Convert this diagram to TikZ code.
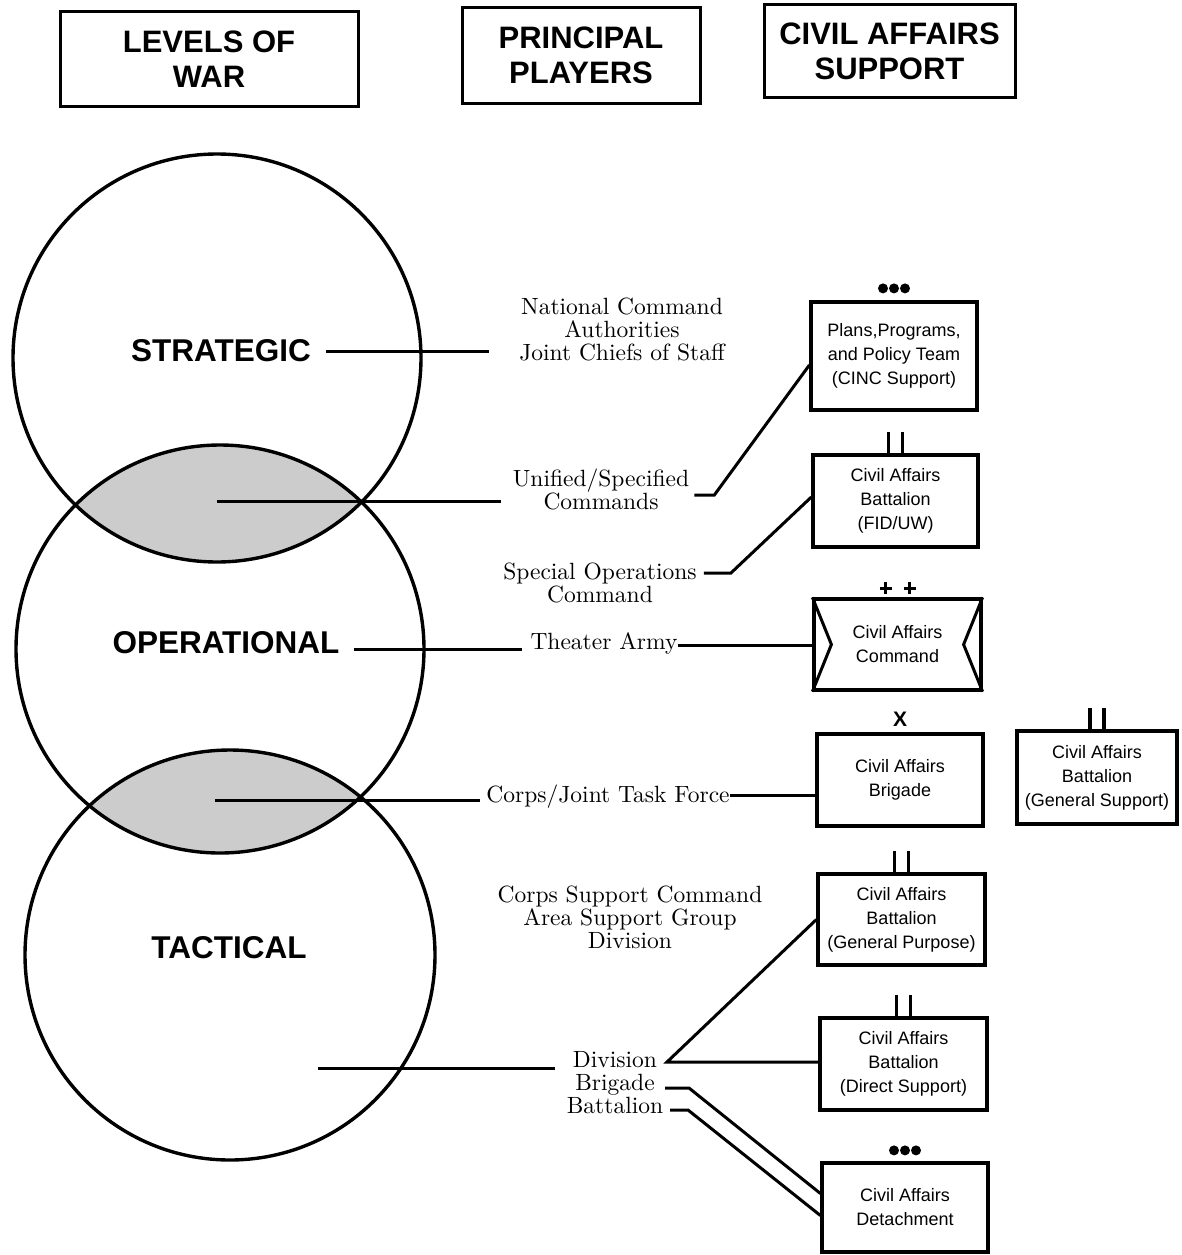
\documentclass[tikz,border=0pt]{standalone}
\usepackage{fontspec}
\newfontfamily\hv{Liberation Sans}
\newfontfamily\cmr{lmroman10-regular}[Extension=.otf]
\begin{document}
\begin{tikzpicture}[x=1pt,y=-1pt,
  hdr/.style={draw, line width=3pt, inner sep=0, align=center,
    font=\hv\bfseries\fontsize{31}{35}\selectfont},
  lvl/.style={inner sep=0, font=\hv\bfseries\fontsize{31.5}{36}\selectfont},
  ply/.style={inner sep=0, align=center, font=\cmr\fontsize{23.5}{23}\selectfont},
  unit/.style={draw, line width=3.2pt, inner sep=0, align=center,
    font=\hv\fontsize{18}{24}\selectfont},
  ring/.style={line width=3.4pt},
  conn/.style={line width=3pt},
  lens/.style={fill=black!20},
  bar/.style={line width=3.4pt},
  dot/.style={fill=black},
]
\useasboundingbox (0,0) rectangle (1181,1255);

% column headings
\node[hdr, minimum width=298, minimum height=94] (h1) at (209,59) {LEVELS OF\\WAR};
\node[hdr, minimum width=238, minimum height=95] (h2) at (581,55.5) {PRINCIPAL\\PLAYERS};
\node[hdr, minimum width=251, minimum height=92] (h3) at (889.5,51) {CIVIL AFFAIRS\\SUPPORT};

% the three levels of war as overlapping circles
\coordinate (cS) at (217,358);
\coordinate (cO) at (220,649);
\coordinate (cT) at (230,955);
\begin{scope}
  \clip (cS) circle[radius=204pt];
  \fill[lens] (cO) circle[radius=204pt];
\end{scope}
\begin{scope}
  \clip (cO) circle[radius=204pt];
  \fill[lens] (cT) circle[radius=205pt];
\end{scope}
\draw[ring] (cS) circle[radius=204pt];
\draw[ring] (cO) circle[radius=204pt];
\draw[ring] (cT) circle[radius=205pt];

\node[lvl] (strat) at (221,351) {STRATEGIC};
\node[lvl] (oper) at (226,643) {OPERATIONAL};
\node[lvl] (tact) at (229,948) {TACTICAL};

% principal players
\node[ply] (nca) at (622,329) {National Command\\Authorities\\Joint Chiefs of Staff};
\node[ply] (usc) at (601,489) {Unified/Specified\\Commands};
\node[ply] (soc) at (600,583) {Special Operations\\Command};
\node[ply] (ta) at (604,643) {Theater Army};
\node[ply] (cjtf) at (608,797) {Corps/Joint Task Force};
\node[ply] (cosc) at (630,917) {Corps Support Command\\Area Support Group\\Division};
\node[ply] (dbb) at (615,1083) {Division\\Brigade\\Battalion};

% civil affairs units
\node[unit, minimum width=166, minimum height=108] (bA) at (894,356) {Plans,Programs,\\and Policy Team\\(CINC Support)};
\node[unit, minimum width=165, minimum height=92] (bB) at (895.5,501) {Civil Affairs\\Battalion\\(FID/UW)};
\node[unit, minimum width=167, minimum height=91] (bC) at (897.5,644.5) {Civil Affairs\\Command};
\node[unit, minimum width=166, minimum height=92] (bD) at (900,780) {Civil Affairs\\Brigade};
\node[unit, minimum width=160, minimum height=93] (bE) at (1097,777.5) {Civil Affairs\\Battalion\\(General Support)};
\node[unit, minimum width=167, minimum height=91] (bF) at (901.5,919.5) {Civil Affairs\\Battalion\\(General Purpose)};
\node[unit, minimum width=167, minimum height=92] (bG) at (903.5,1064) {Civil Affairs\\Battalion\\(Direct Support)};
\node[unit, minimum width=166, minimum height=89] (bH) at (905,1207.5) {Civil Affairs\\Detachment};

% command notches on the civil affairs command
\draw[conn] (bC.north west) -- ([xshift=19pt]bC.west) -- (bC.south west);
\draw[conn] (bC.north east) -- ([xshift=-19pt]bC.east) -- (bC.south east);

% echelon marks
\foreach \dx in {-11,0,11} {
  \fill[dot] ([xshift=\dx pt, yshift=12pt]bA.north) circle[radius=5pt];
  \fill[dot] ([xshift=\dx pt, yshift=11pt]bH.north) circle[radius=5pt];
}
\foreach \b in {bB,bE,bF,bG} {
  \draw[bar] ([xshift=-7pt]\b.north) -- ++(0,-21);
  \draw[bar] ([xshift=7pt]\b.north) -- ++(0,-21);
}
\foreach \dx in {-12,12} {
  \draw[bar] ([xshift={\dx pt-6pt}, yshift=9pt]bC.north) -- ++(12,0);
  \draw[bar] ([xshift=\dx pt, yshift=15pt]bC.north) -- ++(0,12);
}
\node[inner sep=0, font=\hv\bfseries\fontsize{21}{21}\selectfont] (xD) at ([yshift=13pt]bD.north) {X};

% level to player connectors
\coordinate (lensA) at (217,501);
\coordinate (lensB) at (215,800);
\coordinate (tacP) at (318,1068);
\draw[conn] ([xshift=15pt]strat.east) -- ([xshift=-30pt]strat.east -| nca.west);
\draw[conn] (lensA) -- ([xshift=-12pt]lensA -| usc.west);
\draw[conn] ([xshift=14pt, yshift=-6pt]oper.east) -- ([xshift=-8pt, yshift=-6pt]oper.east -| ta.west);
\draw[conn] (lensB) -- ([xshift=-6pt]lensB -| cjtf.west);
\draw[conn] (tacP) -- ([xshift=-12pt]tacP -| dbb.west);

% player to unit connectors
\draw[conn] ([xshift=5pt, yshift=-6pt]usc.east) -- ++(20,0) -- ([yshift=-9pt]bA.west);
\draw[conn] ([xshift=7pt, yshift=10pt]soc.east) -- ++(27,0) -- ([yshift=4pt]bB.west);
\draw[conn] ([yshift=-2pt]ta.east) -- ([yshift=-2pt]ta.east -| bC.west);
\draw[conn] ([yshift=2pt]cjtf.east) -- ([yshift=2pt]cjtf.east -| bD.west);
\coordinate (divP) at (667,1062);
\coordinate (brgP) at (665,1088);
\coordinate (batP) at (670,1110);
\draw[conn] (bF.west) -- (divP) -- (divP -| bG.west);
\draw[conn] (brgP) -- ++(24,0) -- ([yshift=14pt]bH.west);
\draw[conn] (batP) -- ++(18,0) -- ([yshift=-8pt]bH.west);
\end{tikzpicture}
\end{document}
